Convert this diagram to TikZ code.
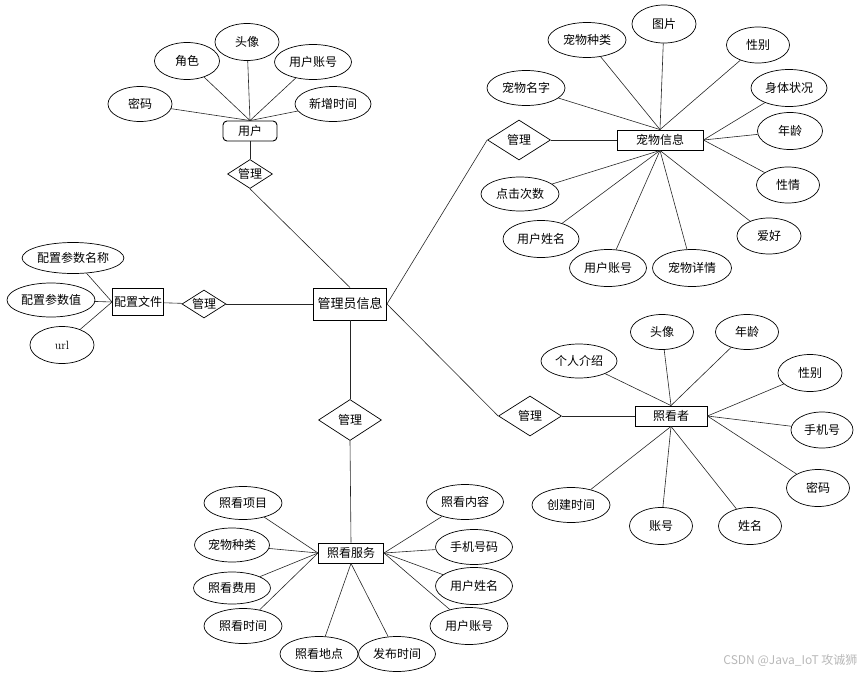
\documentclass[tikz,border=0pt]{standalone}
\usepackage{fontspec}
\newfontfamily\cjkfont{Noto Sans CJK SC}
\usetikzlibrary{shapes.geometric, positioning}
\tikzset{
    erEntity/.style={rectangle, draw, line width=0.9pt, fill=white, inner sep=1pt, minimum height=20pt},
    erAttr/.style={ellipse, draw, line width=0.7pt, fill=white, inner sep=0pt, minimum width=#1, minimum height=35pt},
    erAttr/.default=63pt,
    erRel/.style={diamond, draw, line width=0.7pt, fill=white, aspect=1.6, inner sep=0pt, minimum width=63pt, minimum height=40pt},
    erEdge/.style={line width=0.6pt, black!85},
}
\newcommand{\linkAttr}[2]{
    \draw[erEdge] (#1) -- (#2);
}

\begin{document}
\begin{tikzpicture}[x=1pt, y=-1pt, font=\cjkfont\fontsize{12}{14}\selectfont]
        \useasboundingbox (0,0) rectangle (865,675);

        \node[erEntity, rounded corners=4pt, minimum width=54pt] (user) at (250,131) {用户};
        \node[erRel, minimum width=45pt, minimum height=29pt] (userRel) at (250,174) {管理};
        \node[erAttr=64pt] (userPwd) at (140,104) {密码};
        \node[erAttr=65pt, minimum height=37pt] (userRole) at (187,61) {角色};
        \node[erAttr=64pt, minimum height=37pt] (userAvatar) at (247,42) {头像};
        \node[erAttr=77pt] (userAccount) at (313,62) {用户账号};
        \node[erAttr=76pt] (userTime) at (333,104) {新增时间};

        \node[erEntity, minimum width=73pt, minimum height=32pt, font=\cjkfont\fontsize{13}{15}\selectfont] (admin) at (350,304) {管理员信息};

        \node[erRel, minimum width=44pt, minimum height=28pt] (cfgRel) at (204,304) {管理};
        \node[erEntity, minimum width=51pt, minimum height=27pt] (cfg) at (138,302) {配置文件};
        \node[erAttr=99pt, minimum height=31pt] (cfgName) at (73,258) {配置参数名称};
        \node[erAttr=88pt, minimum height=34pt] (cfgValue) at (51,300) {配置参数值};
        \node[erAttr=64pt, minimum height=37pt, font=\fontsize{12}{14}\selectfont] (cfgUrl) at (62,345) {url};

        \node[erRel] (petRel) at (519,140) {管理};
        \node[erEntity, minimum width=86pt] (pet) at (660,140) {宠物信息};
        \node[erAttr=78pt] (petName) at (526,88) {宠物名字};
        \node[erAttr=78pt] (petKind) at (587,40) {宠物种类};
        \node[erAttr=64pt, minimum height=38pt] (petPic) at (664,24) {图片};
        \node[erAttr=63pt, minimum height=36pt] (petSex) at (758,45) {性别};
        \node[erAttr=76pt, minimum height=37pt] (petHealth) at (789,88) {身体状况};
        \node[erAttr=65pt, minimum height=37pt] (petAge) at (790,131) {年龄};
        \node[erAttr=63pt, minimum height=36pt] (petTemper) at (788,185) {性情};
        \node[erAttr=64pt, minimum height=36pt] (petHobby) at (769,236) {爱好};
        \node[erAttr=79pt, minimum height=37pt] (petDetail) at (692,268) {宠物详情};
        \node[erAttr=77pt, minimum height=37pt] (petUserAcc) at (608,268) {用户账号};
        \node[erAttr=76pt, minimum height=37pt] (petUserName) at (541,239) {用户姓名};
        \node[erAttr=78pt, minimum height=34pt] (petClicks) at (520,194) {点击次数};

        \node[erRel] (sitterRel) at (530,416) {管理};
        \node[erEntity, minimum width=72pt] (sitter) at (671,416) {照看者};
        \node[erAttr=76pt, minimum height=34pt] (sitterIntro) at (579,361) {个人介绍};
        \node[erAttr=63pt] (sitterAvatar) at (662,332) {头像};
        \node[erAttr=63pt] (sitterAge) at (747,332) {年龄};
        \node[erAttr=64pt, minimum height=37pt] (sitterSex) at (810,373) {性别};
        \node[erAttr=62pt, minimum height=36pt] (sitterPhone) at (822,430) {手机号};
        \node[erAttr=63pt, minimum height=37pt] (sitterPwd) at (818,488) {密码};
        \node[erAttr=63pt, minimum height=37pt] (sitterName) at (750,526) {姓名};
        \node[erAttr=63pt, minimum height=37pt] (sitterAcc) at (661,526) {账号};
        \node[erAttr=78pt] (sitterTime) at (571,505) {创建时间};

        \node[erRel, minimum height=41pt] (serviceRel) at (350,420) {管理};
        \node[erEntity, minimum width=65pt] (service) at (351,553) {照看服务};
        \node[erAttr=78pt, minimum height=33pt] (serviceItem) at (243,503) {照看项目};
        \node[erAttr=75pt, minimum height=34pt] (serviceKind) at (232,545) {宠物种类};
        \node[erAttr=77pt, minimum height=32pt] (serviceFee) at (232,588) {照看费用};
        \node[erAttr=78pt] (serviceTime) at (243,626) {照看时间};
        \node[erAttr=78pt] (servicePlace) at (319,654) {照看地点};
        \node[erAttr=77pt] (servicePost) at (397,654) {发布时间};
        \node[erAttr=77pt] (serviceContent) at (465,502) {照看内容};
        \node[erAttr=77pt] (servicePhone) at (474,547) {手机号码};
        \node[erAttr=77pt, minimum height=37pt] (serviceUserName) at (474,586) {用户姓名};
        \node[erAttr=78pt, minimum height=37pt] (serviceUserAcc) at (469,626) {用户账号};

        \node[anchor=east, text=black!28, font=\cjkfont\fontsize{12}{14}\selectfont] (mark) at (861,660) {CSDN @Java\_IoT 攻诚狮};

        \linkAttr{userPwd}{user.north}
        \linkAttr{userRole}{user.north}
        \linkAttr{userAvatar}{user.north}
        \linkAttr{userAccount}{user.north}
        \linkAttr{userTime}{user.north}
        \linkAttr{user.south}{userRel.north}
        \linkAttr{userRel.south}{admin.north}

        \linkAttr{cfgName}{cfg.west}
        \linkAttr{cfgValue}{cfg.west}
        \linkAttr{cfgUrl}{cfg.west}
        \linkAttr{cfg}{cfgRel}
        \linkAttr{cfgRel.east}{admin.west}

        \linkAttr{admin.east}{petRel.west}
        \linkAttr{petRel.east}{pet.west}
        \linkAttr{petName}{pet.north}
        \linkAttr{petKind}{pet.north}
        \linkAttr{petPic}{pet.north}
        \linkAttr{petSex}{pet.north}
        \linkAttr{petHealth}{pet.east}
        \linkAttr{petAge}{pet.east}
        \linkAttr{petTemper}{pet.east}
        \linkAttr{petHobby}{pet.south}
        \linkAttr{petDetail}{pet.south}
        \linkAttr{petUserAcc}{pet.south}
        \linkAttr{petUserName}{pet.south}
        \linkAttr{petClicks}{pet.south}

        \linkAttr{admin.east}{sitterRel.west}
        \linkAttr{sitterRel.east}{sitter.west}
        \linkAttr{sitterIntro}{sitter.north}
        \linkAttr{sitterAvatar}{sitter.north}
        \linkAttr{sitterAge}{sitter.north}
        \linkAttr{sitterSex}{sitter.east}
        \linkAttr{sitterPhone}{sitter.east}
        \linkAttr{sitterPwd}{sitter.east}
        \linkAttr{sitterName}{sitter.south}
        \linkAttr{sitterAcc}{sitter.south}
        \linkAttr{sitterTime}{sitter.south}

        \linkAttr{admin.south}{serviceRel.north}
        \linkAttr{serviceRel.south}{service.north}
        \linkAttr{serviceItem}{service.west}
        \linkAttr{serviceKind}{service.west}
        \linkAttr{serviceFee}{service.west}
        \linkAttr{serviceTime}{service.west}
        \linkAttr{servicePlace}{service.south}
        \linkAttr{servicePost}{service.south}
        \linkAttr{serviceContent}{service.east}
        \linkAttr{servicePhone}{service.east}
        \linkAttr{serviceUserName}{service.east}
        \linkAttr{serviceUserAcc}{service.east}

    \end{tikzpicture}
\end{document}
